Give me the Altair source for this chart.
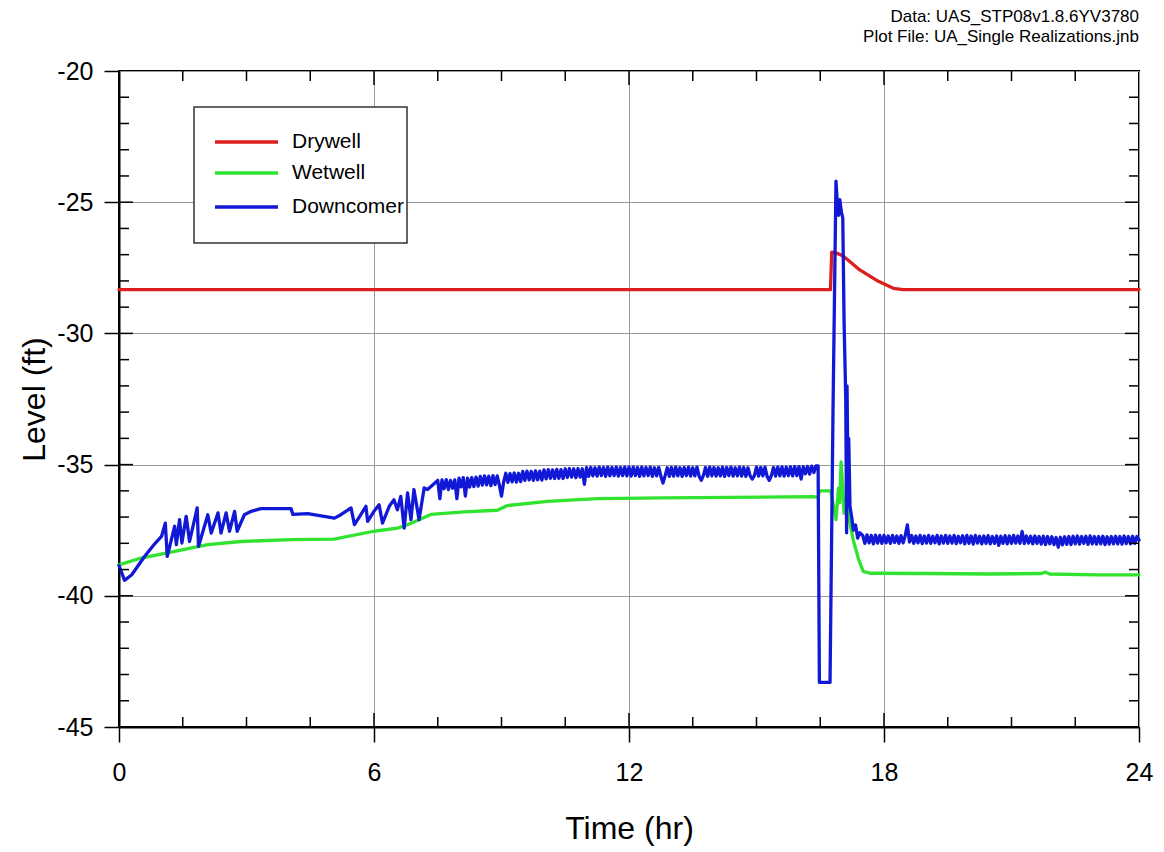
import altair as alt
import pandas as pd

# ---------------- data ----------------
series_names = ["Drywell", "Wetwell", "Downcomer"]
series_colors = ["#dc1e1e", "#2fe32f", "#1219d6"]

dry_t = [0.0, 16.74, 16.77, 16.9, 17.04, 17.43, 17.83, 18.22, 18.45, 24.0]
dry_v = [-28.33, -28.33, -26.9, -26.95, -27.05, -27.58, -27.98, -28.28, -28.33, -28.33]

wet_t = [0.0, 0.52, 1.31, 2.09, 2.87, 4.05, 5.06, 6.0, 6.55, 6.79, 7.34, 8.12, 8.9,
         9.14, 10.08, 11.25, 12.82, 14.38, 16.34, 16.45, 16.48, 16.75, 16.87, 16.93,
         16.96, 16.99, 17.03, 17.06, 17.12, 17.2, 17.28, 17.4, 17.51, 17.67, 19.0,
         20.5, 21.7, 21.8, 21.9, 23.0, 24.0]
wet_v = [-38.82, -38.56, -38.31, -38.05, -37.93, -37.86, -37.84, -37.54, -37.42, -37.29,
         -36.9, -36.8, -36.74, -36.56, -36.4, -36.3, -36.27, -36.25, -36.22, -36.25,
         -36.0, -36.0, -37.1, -35.9, -36.45, -34.9, -35.9, -36.85, -36.45, -37.25,
         -37.9, -38.6, -39.07, -39.14, -39.15, -39.17, -39.15, -39.1, -39.17, -39.2, -39.2]

# Downcomer, early sawtooth part (0 - 7.4 hr)
down_t_early = [0.0, 0.13, 0.3, 0.6, 0.85, 1.0, 1.09, 1.135, 1.31, 1.35, 1.425, 1.48, 1.58,
                1.66, 1.84, 1.87, 2.09, 2.17, 2.33, 2.40, 2.52, 2.60, 2.72, 2.78, 2.95, 3.11,
                3.34, 4.05, 4.09, 4.44, 5.07, 5.22, 5.46, 5.54, 5.69, 5.81, 5.85, 6.0, 6.12,
                6.2, 6.36, 6.47, 6.55, 6.63, 6.71, 6.79, 6.87, 6.94, 7.06, 7.18, 7.26, 7.4]
down_v_early = [-38.85, -39.41, -39.2, -38.5, -38.0, -37.74, -37.23, -38.5, -37.35, -38.05,
                -37.1, -37.99, -36.97, -37.93, -36.65, -38.12, -36.91, -37.61, -36.84, -37.61,
                -36.84, -37.54, -36.78, -37.54, -36.91, -36.78, -36.68, -36.68, -36.9, -36.87,
                -37.04, -36.91, -36.65, -37.29, -36.91, -36.59, -37.16, -36.78, -36.53, -37.23,
                -36.59, -36.34, -36.72, -36.21, -37.42, -36.08, -37.1, -35.95, -37.1, -35.89,
                -35.95, -35.75]

# Downcomer, noisy plateau (7.5 - 16.45 hr)
down_t_mid = [
    7.50, 7.55, 7.60, 7.65, 7.70, 7.75, 7.80, 7.85, 7.90, 7.95,
    8.00, 8.05, 8.10, 8.15, 8.20, 8.25, 8.30, 8.35, 8.40, 8.45,
    8.50, 8.55, 8.60, 8.65, 8.70, 8.75, 8.80, 8.85, 8.90, 8.95,
    9.00, 9.05, 9.10, 9.15, 9.20, 9.25, 9.30, 9.35, 9.40, 9.45,
    9.50, 9.55, 9.60, 9.65, 9.70, 9.75, 9.80, 9.85, 9.90, 9.95,
    10.00, 10.05, 10.10, 10.15, 10.20, 10.25, 10.30, 10.35, 10.40, 10.45,
    10.50, 10.55, 10.60, 10.65, 10.70, 10.75, 10.80, 10.85, 10.90, 10.95,
    11.00, 11.05, 11.10, 11.15, 11.20, 11.25, 11.30, 11.35, 11.40, 11.45,
    11.50, 11.55, 11.60, 11.65, 11.70, 11.75, 11.80, 11.85, 11.90, 11.95,
    12.00, 12.05, 12.10, 12.15, 12.20, 12.25, 12.30, 12.35, 12.40, 12.45,
    12.50, 12.55, 12.60, 12.65, 12.70, 12.75, 12.80, 12.85, 12.90, 12.95,
    13.00, 13.05, 13.10, 13.15, 13.20, 13.25, 13.30, 13.35, 13.40, 13.45,
    13.50, 13.55, 13.60, 13.65, 13.70, 13.75, 13.80, 13.85, 13.90, 13.95,
    14.00, 14.05, 14.10, 14.15, 14.20, 14.25, 14.30, 14.35, 14.40, 14.45,
    14.50, 14.55, 14.60, 14.65, 14.70, 14.75, 14.80, 14.85, 14.90, 14.95,
    15.00, 15.05, 15.10, 15.15, 15.20, 15.25, 15.30, 15.35, 15.40, 15.45,
    15.50, 15.55, 15.60, 15.65, 15.70, 15.75, 15.80, 15.85, 15.90, 15.95,
    16.00, 16.05, 16.10, 16.15, 16.20, 16.25, 16.30, 16.35, 16.40, 16.45]
down_v_mid = [
    -35.6, -36.3, -35.58, -35.92, -35.57, -35.95, -35.6, -35.9, -35.58, -36.3,
    -35.52, -35.85, -35.5, -36.2, -35.52, -35.86, -35.5, -35.84, -35.48, -35.82,
    -35.45, -35.78, -35.43, -35.77, -35.44, -35.8, -35.42, -35.76, -35.43, -35.78,
    -36.2, -35.67, -35.33, -35.68, -35.34, -35.66, -35.32, -35.67, -35.33, -35.65,
    -35.26, -35.6, -35.25, -35.58, -35.26, -35.6, -35.24, -35.58, -35.25, -35.59,
    -35.2, -35.54, -35.19, -35.52, -35.2, -35.53, -35.18, -35.52, -35.19, -35.53,
    -35.16, -35.49, -35.15, -35.48, -35.16, -35.5, -35.15, -35.48, -35.16, -35.75,
    -35.12, -35.45, -35.11, -35.43, -35.12, -35.44, -35.1, -35.42, -35.11, -35.45,
    -35.1, -35.43, -35.11, -35.42, -35.1, -35.44, -35.11, -35.42, -35.1, -35.43,
    -35.1, -35.44, -35.1, -35.42, -35.11, -35.45, -35.1, -35.43, -35.11, -35.42,
    -35.1, -35.45, -35.12, -35.43, -35.11, -35.44, -35.7, -35.42, -35.12, -35.45,
    -35.11, -35.44, -35.1, -35.43, -35.12, -35.45, -35.11, -35.42, -35.1, -35.44,
    -35.12, -35.43, -35.1, -35.44, -35.6, -35.42, -35.11, -35.45, -35.1, -35.43,
    -35.11, -35.44, -35.12, -35.43, -35.1, -35.45, -35.11, -35.42, -35.1, -35.44,
    -35.12, -35.43, -35.1, -35.44, -35.11, -35.45, -35.12, -35.43, -35.55, -35.42,
    -35.1, -35.44, -35.11, -35.43, -35.1, -35.45, -35.6, -35.42, -35.11, -35.44,
    -35.1, -35.43, -35.09, -35.44, -35.1, -35.42, -35.09, -35.43, -35.08, -35.42,
    -35.08, -35.55, -35.08, -35.35, -35.07, -35.36, -35.06, -35.3, -35.05, -35.05]

# Downcomer, drop / spike / recovery (16.48 - 17.45 hr)
down_t_spike = [16.48, 16.73, 16.8, 16.87, 16.9, 16.93, 16.96, 17.0, 17.03, 17.06, 17.08,
                17.1, 17.12, 17.13, 17.15, 17.17, 17.2, 17.24, 17.28, 17.33, 17.38, 17.43]
down_v_spike = [-43.3, -43.3, -33.0, -24.2, -25.0, -25.5, -24.9, -25.4, -25.6, -29.5, -31.0,
                -32.5, -37.6, -32.0, -35.0, -34.0, -36.6, -37.0, -37.5, -37.3, -37.8, -37.6]

# Downcomer, noisy tail (17.5 - 24 hr)
down_t_late = [
    17.50, 17.55, 17.60, 17.65, 17.70, 17.75, 17.80, 17.85, 17.90, 17.95,
    18.00, 18.05, 18.10, 18.15, 18.20, 18.25, 18.30, 18.35, 18.40, 18.45,
    18.50, 18.55, 18.60, 18.65, 18.70, 18.75, 18.80, 18.85, 18.90, 18.95,
    19.00, 19.05, 19.10, 19.15, 19.20, 19.25, 19.30, 19.35, 19.40, 19.45,
    19.50, 19.55, 19.60, 19.65, 19.70, 19.75, 19.80, 19.85, 19.90, 19.95,
    20.00, 20.05, 20.10, 20.15, 20.20, 20.25, 20.30, 20.35, 20.40, 20.45,
    20.50, 20.55, 20.60, 20.65, 20.70, 20.75, 20.80, 20.85, 20.90, 20.95,
    21.00, 21.05, 21.10, 21.15, 21.20, 21.25, 21.30, 21.35, 21.40, 21.45,
    21.50, 21.55, 21.60, 21.65, 21.70, 21.75, 21.80, 21.85, 21.90, 21.95,
    22.00, 22.05, 22.10, 22.15, 22.20, 22.25, 22.30, 22.35, 22.40, 22.45,
    22.50, 22.55, 22.60, 22.65, 22.70, 22.75, 22.80, 22.85, 22.90, 22.95,
    23.00, 23.05, 23.10, 23.15, 23.20, 23.25, 23.30, 23.35, 23.40, 23.45,
    23.50, 23.55, 23.60, 23.65, 23.70, 23.75, 23.80, 23.85, 23.90, 23.95,
    24.00]
down_v_late = [
    -37.7, -38.0, -37.68, -37.98, -37.7, -38.02, -37.69, -37.99, -37.7, -38.0,
    -37.7, -37.98, -37.72, -38.0, -37.7, -37.97, -37.72, -38.0, -37.71, -37.98,
    -37.7, -37.3, -37.95, -37.7, -38.0, -37.72, -37.98, -37.7, -38.01, -37.72,
    -37.99, -37.7, -38.0, -37.73, -37.98, -37.7, -38.02, -37.72, -37.99, -37.7,
    -38.0, -37.72, -37.99, -37.7, -38.01, -37.73, -37.98, -37.71, -38.02, -37.7,
    -38.0, -37.72, -38.03, -37.7, -37.99, -37.73, -38.02, -37.72, -38.0, -37.71,
    -38.02, -37.74, -38.0, -37.72, -38.08, -37.73, -38.0, -37.71, -38.02, -37.72,
    -38.0, -37.7, -37.99, -37.72, -38.0, -37.55, -38.01, -37.72, -37.99, -37.73,
    -38.02, -37.72, -38.0, -37.74, -38.03, -37.73, -38.05, -37.74, -38.02, -37.75,
    -38.05, -37.78, -38.15, -37.77, -38.06, -37.75, -38.04, -37.74, -38.05, -37.73,
    -38.02, -37.72, -38.03, -37.74, -38.0, -37.73, -38.04, -37.72, -38.02, -37.74,
    -38.03, -37.74, -38.02, -37.73, -38.05, -37.75, -38.03, -37.74, -38.02, -37.73,
    -38.02, -37.74, -38.03, -37.72, -38.01, -37.74, -38.02, -37.73, -38.0, -37.74,
    -37.88]

down_t = down_t_early + down_t_mid + down_t_spike + down_t_late
down_v = down_v_early + down_v_mid + down_v_spike + down_v_late

x_major = [0, 6, 12, 18, 24]
x_inner_major = [6, 12, 18]
x_minor = [1.5, 3, 4.5, 7.5, 9, 10.5, 13.5, 15, 16.5, 19.5, 21, 22.5]
y_major = [-45, -40, -35, -30, -25, -20]
y_inner_major = [-40, -35, -30, -25]
y_minor = [-21, -22, -23, -24, -26, -27, -28, -29, -31, -32, -33, -34,
           -36, -37, -38, -39, -41, -42, -43, -44]

title_lines = ["Data: UAS_STP08v1.8.6YV3780", "Plot File:  UA_Single Realizations.jnb"]

# ---------------- tables ----------------
rows = []
for name, ts, vs in [("Drywell", dry_t, dry_v), ("Wetwell", wet_t, wet_v),
                     ("Downcomer", down_t, down_v)]:
    for i, (t, v) in enumerate(zip(ts, vs)):
        rows.append({"series": name, "t": t, "v": v, "i": i})
df = pd.DataFrame(rows)

df_xminor = pd.DataFrame({"t": x_minor})
df_xmajor = pd.DataFrame({"t": x_inner_major})
df_yminor = pd.DataFrame({"v": y_minor})
df_ymajor = pd.DataFrame({"v": y_inner_major})
one = pd.DataFrame({"k": [0]})

W, H = 1020, 656
FONT = "Liberation Sans"
xs = alt.Scale(domain=[0, 24], nice=False, zero=False)
ys = alt.Scale(domain=[-45, -20], nice=False, zero=False)

color = alt.Color("series:N", scale=alt.Scale(domain=series_names, range=series_colors),
                  legend=None)

x_enc = alt.X("t:Q", scale=xs, axis=alt.Axis(
    values=x_major, title="Time (hr)", labelExpr="'' + datum.value", grid=True))
y_enc = alt.Y("v:Q", scale=ys, axis=alt.Axis(
    values=y_major, title="Level (ft)", labelExpr="'' + datum.value", grid=True))

base = alt.Chart(df).mark_line(strokeWidth=3.3, strokeJoin="round", strokeCap="round").encode(
    x=x_enc, y=y_enc, color=color, order="i:Q")

line_layers = [base.transform_filter(alt.datum.series == s) for s in series_names]

tick_style = dict(color="black", strokeWidth=1.5)

ticks = [
    alt.Chart(df_xminor).mark_rule(**tick_style).encode(x=x_enc, y=alt.value(H - 10), y2=alt.value(H)),
    alt.Chart(df_xminor).mark_rule(**tick_style).encode(x=x_enc, y=alt.value(0), y2=alt.value(10)),
    alt.Chart(df_xmajor).mark_rule(**tick_style).encode(x=x_enc, y=alt.value(H - 14), y2=alt.value(H)),
    alt.Chart(df_xmajor).mark_rule(**tick_style).encode(x=x_enc, y=alt.value(0), y2=alt.value(14)),
    alt.Chart(df_yminor).mark_rule(**tick_style).encode(y=y_enc, x=alt.value(0), x2=alt.value(10)),
    alt.Chart(df_yminor).mark_rule(**tick_style).encode(y=y_enc, x=alt.value(W - 10), x2=alt.value(W)),
    alt.Chart(df_ymajor).mark_rule(**tick_style).encode(y=y_enc, x=alt.value(0), x2=alt.value(14)),
    alt.Chart(df_ymajor).mark_rule(**tick_style).encode(y=y_enc, x=alt.value(W - 14), x2=alt.value(W)),
]

# legend box (top-left, inside the plot)
legend_layers = [
    alt.Chart(one).mark_rect(fill="white", stroke="#333333", strokeWidth=1.5).encode(
        x=alt.value(75), x2=alt.value(288), y=alt.value(36), y2=alt.value(172))
]
for name, col, yy in zip(series_names, series_colors, [71, 102, 136]):
    legend_layers.append(
        alt.Chart(one).mark_rule(color=col, strokeWidth=3.5).encode(
            x=alt.value(96), x2=alt.value(159), y=alt.value(yy)))
    legend_layers.append(
        alt.Chart(one).mark_text(text=name, align="left", baseline="middle", font=FONT,
                                 fontSize=21, color="black").encode(
            x=alt.value(173), y=alt.value(yy)))

chart = alt.layer(*line_layers, *ticks, *legend_layers).properties(
    width=W, height=H,
    autosize=alt.AutoSizeParams(type="none"),
    padding={"left": 111, "top": 63, "right": 17, "bottom": 120},
    title=alt.TitleParams(title_lines, anchor="end", frame="group", font=FONT, fontSize=17,
                          fontWeight="normal", lineHeight=20, offset=13, color="black"),
).configure_view(
    stroke="black", strokeWidth=2
).configure_axis(
    labelFont=FONT, titleFont=FONT, labelFontSize=25, titleFontSize=32,
    titleFontWeight="normal", labelColor="black", titleColor="black",
    domainColor="black", domainWidth=2, tickColor="black", tickWidth=1.5,
    tickSize=15, gridColor="#9a9a9a", gridWidth=1, gridOpacity=1, labelFlush=False,
).configure_axisX(
    labelPadding=18, titlePadding=28,
).configure_axisY(
    labelPadding=11, titlePadding=5,
)

chart.save("out.html", embed_options={"renderer": "svg", "actions": False})
